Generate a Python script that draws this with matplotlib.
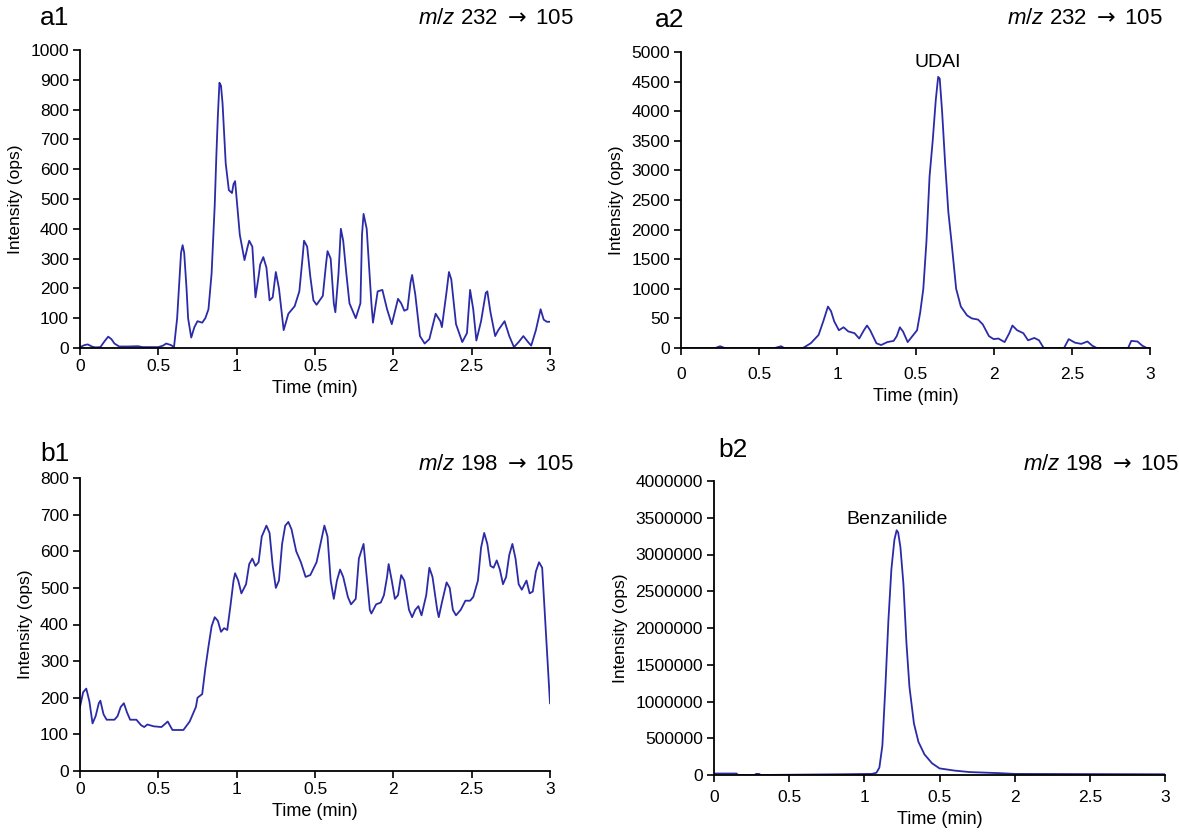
import matplotlib
matplotlib.use("Agg")
import matplotlib.pyplot as plt

plt.rcParams["font.family"] = ["Liberation Sans", "DejaVu Sans"]
plt.rcParams["mathtext.fontset"] = "custom"
plt.rcParams["mathtext.it"] = "Liberation Sans:italic"
plt.rcParams["mathtext.rm"] = "Liberation Sans"
plt.rcParams["mathtext.sf"] = "DejaVu Sans"

LINE = "#2B2BA8"

# ---- data ----------------------------------------------------------------
a1_t = [0, 0.03, 0.05, 0.08, 0.1, 0.13, 0.16, 0.18, 0.2, 0.22, 0.25, 0.3, 0.37, 0.4, 0.5,
        0.53, 0.55, 0.58, 0.6, 0.62, 0.635, 0.645, 0.655, 0.665, 0.68, 0.69, 0.71, 0.73, 0.75,
        0.78, 0.8, 0.82, 0.84, 0.86, 0.87, 0.88, 0.89, 0.9, 0.91, 0.93, 0.95, 0.97, 0.98,
        0.99, 1.0, 1.02, 1.05, 1.07, 1.08, 1.1, 1.12, 1.14, 1.15, 1.17, 1.19, 1.21, 1.23,
        1.25, 1.27, 1.3, 1.33, 1.37, 1.4, 1.42, 1.43, 1.45, 1.47, 1.49, 1.51, 1.55, 1.57,
        1.58, 1.6, 1.62, 1.63, 1.65, 1.665, 1.68, 1.7, 1.72, 1.76, 1.79, 1.8, 1.81, 1.83,
        1.86, 1.87, 1.9, 1.93, 1.96, 1.99, 2.03, 2.05, 2.07, 2.09, 2.11, 2.12, 2.14, 2.17,
        2.2, 2.23, 2.27, 2.3, 2.31, 2.34, 2.355, 2.37, 2.4, 2.44, 2.47, 2.49, 2.51, 2.53,
        2.56, 2.59, 2.6, 2.62, 2.65, 2.67, 2.71, 2.74, 2.77, 2.8, 2.83, 2.86, 2.88, 2.91,
        2.94, 2.96, 2.98, 3.0]
a1_y = [3, 10, 12, 4, 2, 3, 25, 38, 30, 15, 5, 5, 6, 3, 3,
        8, 15, 10, 3, 100, 230, 320, 345, 320, 200, 100, 35, 70, 90,
        85, 100, 130, 250, 480, 640, 780, 890, 880, 820, 620, 530, 520, 550,
        560, 500, 380, 295, 340, 360, 340, 170, 240, 280, 305, 270, 160, 170,
        255, 200, 60, 115, 140, 190, 300, 360, 340, 240, 160, 145, 175, 280,
        325, 300, 150, 120, 250, 400, 360, 250, 150, 100, 150, 380, 450, 400,
        150, 85, 190, 195, 130, 80, 165, 150, 125, 130, 220, 245, 180, 40,
        15, 30, 115, 90, 70, 190, 255, 230, 80, 20, 50, 195, 130, 25,
        90, 185, 190, 120, 40, 60, 90, 40, 3, 20, 40, 20, 8, 60,
        130, 95, 88, 88]

a2_t = [0, 0.22, 0.25, 0.28, 0.6, 0.64, 0.66, 0.78, 0.83, 0.88, 0.91, 0.94, 0.96, 0.98,
        1.01, 1.04, 1.07, 1.11, 1.14, 1.17, 1.19, 1.21, 1.25, 1.28, 1.32, 1.36, 1.38, 1.4,
        1.42, 1.45, 1.48, 1.51, 1.53, 1.55, 1.57, 1.59, 1.61, 1.63, 1.645, 1.655, 1.67, 1.69,
        1.71, 1.73, 1.76, 1.79, 1.83, 1.86, 1.9, 1.93, 1.97, 2.0, 2.03, 2.07, 2.1, 2.12,
        2.15, 2.19, 2.22, 2.26, 2.29, 2.32, 2.45, 2.48, 2.52, 2.56, 2.6, 2.63, 2.66, 2.86,
        2.88, 2.92, 2.95, 2.98, 3.0]
a2_y = [0, 0, 30, 0, 0, 30, 0, 0, 80, 220, 450, 700, 620, 450,
        300, 350, 280, 250, 160, 300, 380, 300, 80, 50, 100, 120, 200, 350,
        280, 100, 200, 300, 600, 1000, 1800, 2900, 3500, 4200, 4580, 4550, 4000, 3100,
        2300, 1800, 1000, 700, 550, 500, 480, 400, 200, 150, 160, 100, 250, 380,
        300, 250, 130, 170, 130, 0, 0, 150, 90, 70, 110, 40, 0, 0,
        120, 110, 40, 0, 0]

b1_t = [0, 0.02, 0.04, 0.06, 0.08, 0.1, 0.12, 0.13, 0.15, 0.17, 0.22, 0.24, 0.26, 0.28,
        0.3, 0.32, 0.36, 0.39, 0.41, 0.43, 0.47, 0.52, 0.56, 0.59, 0.66, 0.7, 0.74, 0.75,
        0.78, 0.8, 0.82, 0.84, 0.86, 0.88, 0.9, 0.92, 0.94, 0.96, 0.98, 0.99, 1.01, 1.03,
        1.06, 1.08, 1.1, 1.12, 1.14, 1.16, 1.19, 1.21, 1.23, 1.25, 1.27, 1.29, 1.31, 1.33,
        1.35, 1.38, 1.41, 1.44, 1.47, 1.51, 1.53, 1.56, 1.58, 1.6, 1.62, 1.64, 1.66, 1.68,
        1.71, 1.73, 1.76, 1.78, 1.81, 1.83, 1.85, 1.86, 1.89, 1.92, 1.94, 1.96, 1.97, 1.99,
        2.01, 2.03, 2.05, 2.07, 2.1, 2.12, 2.14, 2.16, 2.18, 2.21, 2.23, 2.25, 2.28, 2.29,
        2.31, 2.34, 2.36, 2.38, 2.4, 2.43, 2.46, 2.49, 2.51, 2.54, 2.56, 2.58, 2.6, 2.62,
        2.64, 2.66, 2.68, 2.7, 2.72, 2.74, 2.76, 2.78, 2.8, 2.82, 2.85, 2.87, 2.89, 2.91,
        2.93, 2.95, 2.96, 2.98, 3.0]
b1_y = [175, 215, 225, 190, 130, 150, 185, 192, 155, 140, 140, 150, 175, 185,
        160, 140, 140, 125, 120, 127, 122, 120, 135, 112, 112, 135, 175, 200,
        210, 280, 340, 395, 420, 410, 380, 390, 385, 450, 520, 540, 520, 485,
        510, 565, 580, 560, 570, 640, 670, 650, 560, 500, 520, 620, 670, 680,
        660, 600, 570, 530, 535, 570, 610, 670, 640, 520, 470, 520, 550, 530,
        475, 455, 470, 580, 620, 530, 440, 430, 455, 460, 480, 530, 565, 520,
        470, 480, 535, 520, 440, 420, 440, 450, 425, 480, 555, 530, 440, 420,
        460, 515, 500, 440, 425, 440, 465, 465, 475, 520, 610, 650, 620, 560,
        555, 575, 550, 510, 530, 590, 620, 580, 510, 495, 520, 485, 490, 545,
        570, 555, 480, 330, 185]

b2_t = [0, 0.15, 0.16, 0.27, 0.28, 0.3, 0.31, 0.85, 1.05, 1.08, 1.1, 1.12, 1.14, 1.16,
        1.18, 1.2, 1.215, 1.225, 1.24, 1.26, 1.28, 1.3, 1.33, 1.36, 1.4, 1.45, 1.5, 1.6,
        1.7, 1.9, 2.0, 3.0]
b2_y = [20000, 20000, 0, 0, 15000, 15000, 0, 10000, 15000, 30000, 100000, 400000,
        1200000, 2100000, 2800000, 3200000, 3330000, 3300000, 3100000, 2600000, 1800000,
        1200000, 700000, 450000, 280000, 160000, 90000, 60000, 40000, 25000, 15000, 10000]

x_ticks = [0, 0.5, 1, 1.5, 2, 2.5, 3]
x_labels = ["0", "0.5", "1", "0.5", "2", "2.5", "3"]
a1_yticks = list(range(0, 1001, 100))
a2_yticks = list(range(0, 5001, 500))
a2_ylabels = ["0", "50"] + [str(v) for v in a2_yticks[2:]]
b1_yticks = list(range(0, 801, 100))
b2_yticks = list(range(0, 4000001, 500000))

W, H = 1179, 832
fig = plt.figure(figsize=(W / 100, H / 100), dpi=100)


def px_axes(left, top, right, bottom):
    return fig.add_axes([left / W, 1 - bottom / H, (right - left) / W, (bottom - top) / H])


def style(ax, t, y, yticks, ylabels, ymax, xpad=3):
    ax.plot(t, y, color=LINE, lw=1.3)
    ax.set_xlim(0, 3)
    ax.set_ylim(0, ymax)
    ax.set_xticks(x_ticks)
    ax.set_xticklabels(x_labels)
    ax.set_yticks(yticks)
    ax.set_yticklabels(ylabels)
    for s in ("top", "right"):
        ax.spines[s].set_visible(False)
    for s in ("left", "bottom"):
        ax.spines[s].set_linewidth(1.3)
    ax.tick_params(direction="out", length=5, width=1.2, labelsize=12.5, pad=3)
    ax.tick_params(axis="x", pad=xpad)
    ax.set_xlabel("Time (min)", fontsize=13, labelpad=4)
    ax.set_ylabel("Intensity (ops)", fontsize=12.5, labelpad=5)
    ax.margins(0)


ax1 = px_axes(80, 50, 550, 348)
style(ax1, a1_t, a1_y, a1_yticks, [str(v) for v in a1_yticks], 1000)

ax2 = px_axes(681, 52, 1150, 348)
style(ax2, a2_t, a2_y, a2_yticks, a2_ylabels, 5000, xpad=9)
ax2.text(1.64, 4830, "UDAI", ha="center", va="center", fontsize=14)

ax3 = px_axes(80, 478, 550, 771)
style(ax3, b1_t, b1_y, b1_yticks, [str(v) for v in b1_yticks], 800)

ax4 = px_axes(714, 481, 1165, 775)
style(ax4, b2_t, b2_y, b2_yticks, [str(v) for v in b2_yticks], 4000000, xpad=6)
ax4.text(1.22, 3470000, "Benzanilide", ha="center", va="center", fontsize=14)

mz_a = r"$m/z$ 232 $\mathsf{\rightarrow}$ 105"
mz_b = r"$m/z$ 198 $\mathsf{\rightarrow}$ 105"
fig.text(40 / W, 1 - 18 / H, "a1", fontsize=19, va="center")
fig.text(574 / W, 1 - 18 / H, mz_a, fontsize=16, va="center", ha="right")
fig.text(655 / W, 1 - 20 / H, "a2", fontsize=19, va="center")
fig.text(1163 / W, 1 - 18 / H, mz_a, fontsize=16, va="center", ha="right")
fig.text(40 / W, 1 - 454 / H, "b1", fontsize=19, va="center")
fig.text(574 / W, 1 - 464 / H, mz_b, fontsize=16, va="center", ha="right")
fig.text(718 / W, 1 - 450 / H, "b2", fontsize=19, va="center")
fig.text(1179 / W, 1 - 464 / H, mz_b, fontsize=16, va="center", ha="right")

fig.savefig("out.png", dpi=100)
